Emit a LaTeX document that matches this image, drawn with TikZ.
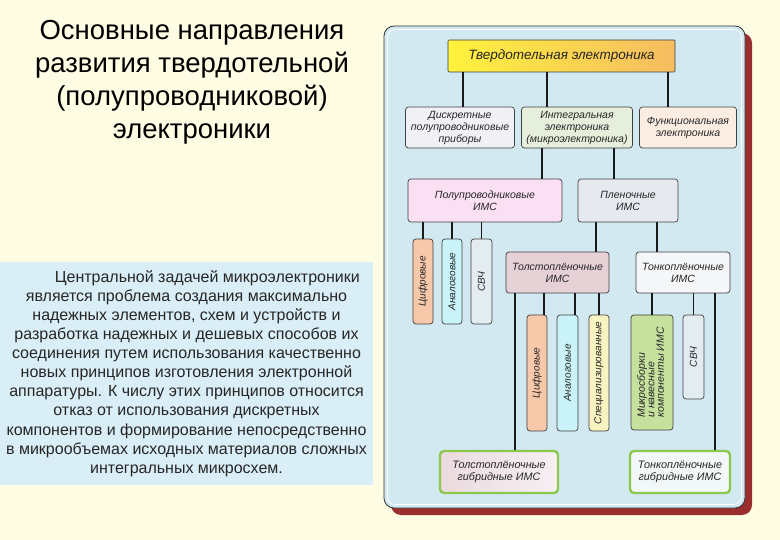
\documentclass[tikz,border=0pt]{standalone}
\usepackage{fontspec}
\setmainfont{Liberation Sans}
\setsansfont{Liberation Sans}
\usepackage{graphicx}
\definecolor{bgcream}{HTML}{FEFCE2}
\definecolor{panelblue}{HTML}{D3E9F1}
\definecolor{shadowred}{HTML}{9A2E2E}
\definecolor{parablue}{HTML}{DAEEF7}
\definecolor{topyel}{HTML}{FFF23C}
\definecolor{toporg}{HTML}{F6BC62}
\definecolor{cdis}{HTML}{F1F1F5}
\definecolor{cint}{HTML}{E5EFDB}
\definecolor{cfun}{HTML}{FCEDE3}
\definecolor{cpp}{HTML}{FBDFF3}
\definecolor{cpl}{HTML}{E7E9F0}
\definecolor{ccif}{HTML}{F8C8AA}
\definecolor{cana}{HTML}{C9F3F8}
\definecolor{csvch}{HTML}{E3EDF1}
\definecolor{ctl}{HTML}{E6D1D6}
\definecolor{ctn}{HTML}{F4F6F8}
\definecolor{cspec}{HTML}{F8F4C2}
\definecolor{cmik}{HTML}{C6E09E}
\definecolor{gborder}{HTML}{8CC84E}
\definecolor{cbl}{HTML}{EEE0E8}
\definecolor{cbr}{HTML}{F2F8F8}
\begin{document}
\begin{tikzpicture}[x=1pt,y=-1pt,
  box/.style={draw=black!75, line width=0.7pt, rounded corners=3pt, align=center,
    inner sep=1pt, text=black!85, font=\itshape\fontsize{10.5}{12}\selectfont},
  vbox/.style={box, font=\itshape\fontsize{10}{12}\selectfont},
  gbox/.style={box, draw=gborder, line width=2.4pt, rounded corners=4pt,
    font=\itshape\fontsize{10.8}{12.5}\selectfont},
  conn/.style={line width=1.7pt, draw=black!90}]
\useasboundingbox (0,0) rectangle (780,540);
\fill[bgcream] (0,0) rectangle (780,540);
% panel
\fill[shadowred, rounded corners=10pt] (391,33) rectangle (752,515);
\draw[draw=black!80, fill=panelblue, rounded corners=10pt, line width=0.8pt] (384,26) rectangle (745,508);
\draw[white, rounded corners=8pt, line width=0.7pt] (387.5,29.5) rectangle (741.5,504.5);
% title
\node[font=\fontsize{27.5}{33}\selectfont, align=center, text=black] (title) at (192,82)
  {Основные направления\\развития твердотельной\\(полупроводниковой)\\электроники};
% paragraph
\node[fill=parablue, minimum width=373pt, minimum height=223pt, inner sep=0pt,
  align=center, font=\fontsize{16}{19.1}\selectfont, text=black!85] (para) at (186.5,373.5)
  {\hspace*{2.6em}Центральной задачей микроэлектроники\\
   является проблема создания максимально\\
   надежных элементов, схем и устройств и\\
   разработка надежных и дешевых способов их\\
   соединения путем использования качественно\\
   новых принципов изготовления электронной\\
   аппаратуры. К числу этих принципов относится\\
   отказ от использования дискретных\\
   компонентов и формирование непосредственно\\
   в микрообъемах исходных материалов сложных\\
   интегральных микросхем.};
% top
\node[box, left color=topyel, right color=toporg, minimum width=227pt, minimum height=32pt,
  font=\itshape\fontsize{13.5}{15}\selectfont, rounded corners=1pt] (top) at (561.5,56) {Твердотельная электроника};
% row 2
\node[box, fill=cdis, minimum width=109pt, minimum height=41pt] (dis) at (460,127.5)
  {Дискретные\\полупроводниковые\\приборы};
\node[box, fill=cint, minimum width=111pt, minimum height=41pt] (int) at (577,127.5)
  {Интегральная\\электроника\\(микроэлектроника)};
\node[box, fill=cfun, minimum width=97pt, minimum height=41pt] (fun) at (688,127.5)
  {Функциональная\\электроника};
% row 3
\node[box, fill=cpp, minimum width=154pt, minimum height=43pt] (pp) at (485,200.5)
  {Полупроводниковые\\ИМС};
\node[box, fill=cpl, minimum width=100pt, minimum height=43pt] (pl) at (628,200.5)
  {Пленочные\\ИМС};
% row 4
\node[vbox, fill=ccif, minimum width=20pt, minimum height=85pt] (c1) at (423,281.5) {\rotatebox{90}{Цифровые}};
\node[vbox, fill=cana, minimum width=20pt, minimum height=85pt] (a1) at (452,281.5) {\rotatebox{90}{Аналоговые}};
\node[vbox, fill=csvch, minimum width=21pt, minimum height=85pt] (s1) at (481.5,281.5) {\rotatebox{90}{СВЧ}};
\node[box, fill=ctl, minimum width=103pt, minimum height=41pt] (tl) at (557.5,272.5)
  {Толстоплёночные\\ИМС};
\node[box, fill=ctn, minimum width=94pt, minimum height=41pt] (tn) at (683,272.5)
  {Тонкоплёночные\\ИМС};
% row 5
\node[vbox, fill=ccif, minimum width=20pt, minimum height=116pt] (c2) at (537,373) {\rotatebox{90}{Цифровые}};
\node[vbox, fill=cana, minimum width=21pt, minimum height=116pt] (a2) at (567.5,373) {\rotatebox{90}{Аналоговые}};
\node[vbox, fill=cspec, minimum width=20pt, minimum height=116pt] (sp) at (599,373) {\rotatebox{90}{Специализированные}};
\node[box, fill=cmik, minimum width=42pt, minimum height=115pt, font=\itshape\fontsize{10.5}{12}\selectfont] (mk) at (652,372.5)
  {\raisebox{0pt}{\rotatebox{90}{\begin{tabular}{@{}l@{}}Микросборки\\[-2.5pt]и навесные\\[-2.5pt]компоненты ИМС\end{tabular}}}};
\node[vbox, fill=csvch, minimum width=21pt, minimum height=84pt] (s2) at (693.5,357) {\rotatebox{90}{СВЧ}};
% bottom
\node[gbox, left color=ctl!80, right color=cbl!50, minimum width=118pt, minimum height=42pt] (bl) at (499,472)
  {Толстоплёночные\\гибридные ИМС};
\node[gbox, fill=cbr, minimum width=100pt, minimum height=42pt] (br) at (680,472)
  {Тонкоплёночные\\гибридные ИМС};
% connectors
\draw[conn] ([xshift=3pt]dis.north) -- ([xshift=3pt]dis.north |- top.south);
\draw[conn] ([xshift=-30pt]int.north) -- ([xshift=-30pt]int.north |- top.south);
\draw[conn] ([xshift=-20pt]fun.north) -- ([xshift=-20pt]fun.north |- top.south);
\draw[conn] ([xshift=57pt]pp.north) -- ([xshift=57pt]pp.north |- int.south);
\draw[conn] ([xshift=-14pt]pl.north) -- ([xshift=-14pt]pl.north |- int.south);
\draw[conn] (c1.north) -- (c1.north |- pp.south);
\draw[conn] (a1.north) -- (a1.north |- pp.south);
\draw[conn] (s1.north) -- (s1.north |- pp.south);
\draw[conn] ([xshift=38.5pt]tl.north) -- ([xshift=38.5pt]tl.north |- pl.south);
\draw[conn] ([xshift=-26pt]tn.north) -- ([xshift=-26pt]tn.north |- pl.south);
\draw[conn] ([xshift=7pt]c2.north) -- ([xshift=7pt]c2.north |- tl.south);
\draw[conn] ([xshift=7.5pt]a2.north) -- ([xshift=7.5pt]a2.north |- tl.south);
\draw[conn] (sp.north) -- (sp.north |- tl.south);
\draw[conn] (mk.north) -- (mk.north |- tn.south);
\draw[conn] (s2.north) -- (s2.north |- tn.south);
\draw[conn] ([xshift=16pt]bl.north) -- ([xshift=16pt]bl.north |- tl.south);
\draw[conn] ([xshift=35pt]br.north) -- ([xshift=35pt]br.north |- tn.south);
\end{tikzpicture}
\end{document}
